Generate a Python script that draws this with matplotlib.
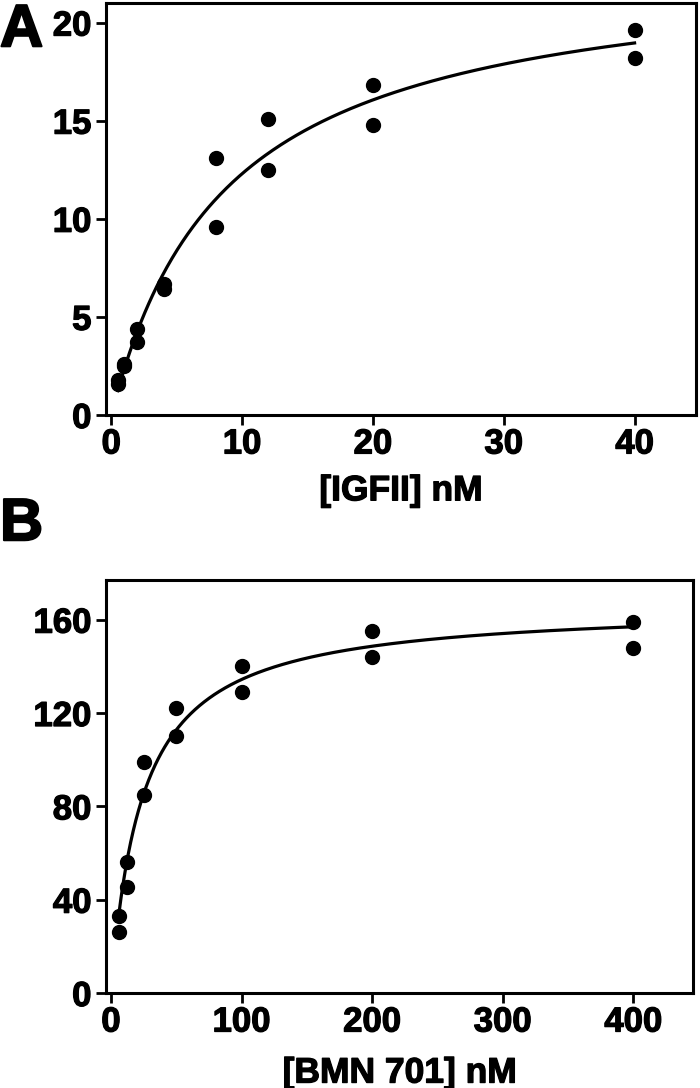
import numpy as np
import matplotlib
matplotlib.use("Agg")
import matplotlib.pyplot as plt
import matplotlib.patheffects as pe

# --- data ---
igf_conc = [0.5, 0.5, 1, 1, 2, 2, 4, 4, 8, 8, 12, 12, 20, 20, 40, 40]
igf_bound = [1.8, 1.6, 2.6, 2.5, 4.4, 3.7, 6.7, 6.4, 13.1, 9.6, 15.1, 12.5, 16.8, 14.8, 19.6, 18.2]

bmn_conc = [6.25, 6.25, 12.5, 12.5, 25, 25, 50, 50, 100, 100, 200, 200, 400, 400]
bmn_bound = [33, 26, 56, 45.5, 99, 85, 122, 110, 140, 129, 155, 144, 159, 148]

a_xticks = [0, 10, 20, 30, 40]
a_yticks = [0, 5, 10, 15, 20]
b_xticks = [0, 100, 200, 300, 400]
b_yticks = [0, 40, 80, 120, 160]

plt.rcParams['font.family'] = ['Liberation Sans', 'DejaVu Sans']
plt.rcParams['font.weight'] = 'bold'

heavy = [pe.withStroke(linewidth=0.9, foreground='black')]


def fit_one_site(x, y):
    # simple one-site binding fit: y = Bmax*x/(Kd+x), grid over Kd
    x = np.asarray(x, float)
    y = np.asarray(y, float)
    best = None
    for kd in np.linspace(0.1, 200, 20000):
        g = x / (kd + x)
        bmax = (g @ y) / (g @ g)
        err = np.sum((y - bmax * g) ** 2)
        if best is None or err < best[0]:
            best = (err, kd, bmax)
    return best[1], best[2]


def style_axes(ax):
    for s in ax.spines.values():
        s.set_linewidth(2.2)
    ax.tick_params(width=2.0, length=7.5, labelsize=25)
    ax.tick_params(axis='y', pad=3)
    ax.tick_params(axis='x', pad=1.5)
    for lab in ax.get_xticklabels() + ax.get_yticklabels():
        lab.set_fontweight('bold')
        lab.set_path_effects(heavy)
    ax.xaxis.label.set_path_effects(heavy)


fig = plt.figure(figsize=(7, 10.88), dpi=100)

# --- panel A ---
ax1 = fig.add_axes([0.1514, 0.6186, 0.843, 0.3787])
kd, bmax = fit_one_site(igf_conc, igf_bound)
xs = np.linspace(min(igf_conc), max(igf_conc), 400)
ax1.plot(xs, bmax * xs / (kd + xs), color='black', lw=2.3)
ax1.plot(igf_conc, igf_bound, 'o', color='black', ms=10)
ax1.set_xlim(-0.4, 44.7)
ax1.set_ylim(0, 21)
ax1.set_xticks(a_xticks)
ax1.set_yticks(a_yticks)
ax1.set_xlabel('[IGFII] nM', fontsize=25.5, fontweight='bold', labelpad=10)
style_axes(ax1)

# --- panel B ---
ax2 = fig.add_axes([0.1514, 0.0873, 0.839, 0.3796])
kd, bmax = fit_one_site(bmn_conc, bmn_bound)
xs = np.linspace(min(bmn_conc), max(bmn_conc), 800)
ax2.plot(xs, bmax * xs / (kd + xs), color='black', lw=2.3)
ax2.plot(bmn_conc, bmn_bound, 'o', color='black', ms=10)
ax2.set_xlim(-3.8, 446)
ax2.set_ylim(0, 177)
ax2.set_xticks(b_xticks)
ax2.set_yticks(b_yticks)
ax2.set_xlabel('[BMN 701] nM', fontsize=25.5, fontweight='bold', labelpad=13)
style_axes(ax2)

fig.text(0.0, 0.997, 'A', fontsize=43, fontweight='bold', va='top', ha='left',
         path_effects=[pe.withStroke(linewidth=1.5, foreground='black')])
fig.text(0.0, 0.543, 'B', fontsize=43, fontweight='bold', va='top', ha='left',
         path_effects=[pe.withStroke(linewidth=1.5, foreground='black')])

fig.savefig('out.png', dpi=100)
